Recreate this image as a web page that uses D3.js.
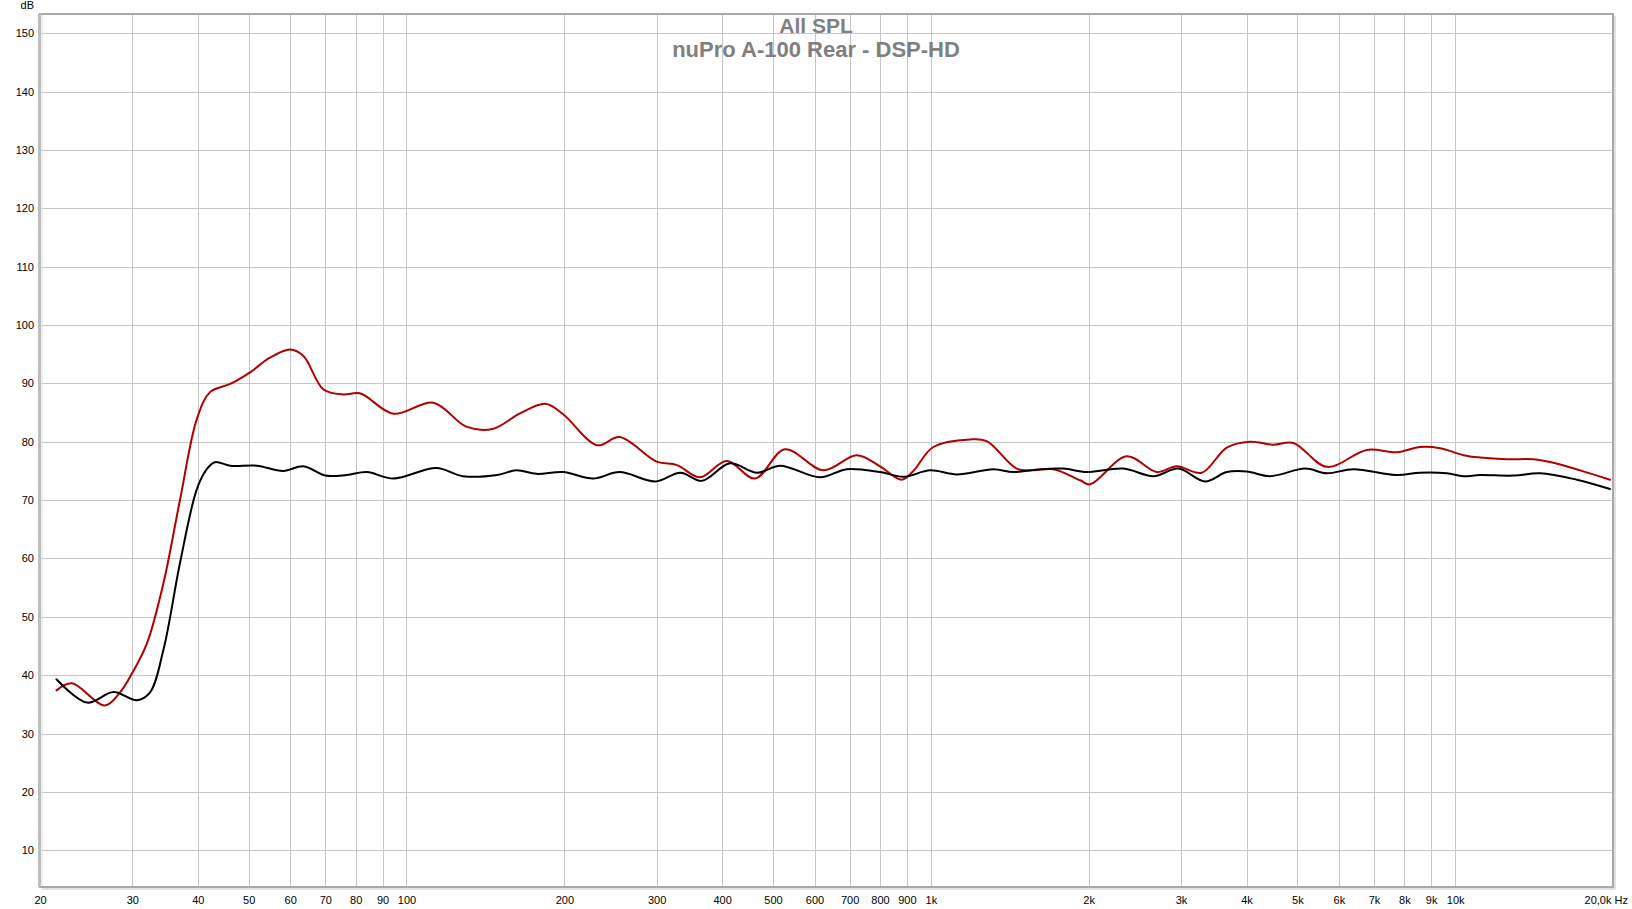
<!DOCTYPE html>
<html><head><meta charset="utf-8">
<script src="https://cdn.jsdelivr.net/npm/d3@7"></script>
<style>html,body{margin:0;padding:0;background:#fff;} svg{display:block;font-family:"Liberation Sans",Arial,sans-serif;}</style>
</head><body><svg id="c" width="1632" height="909"></svg>
<script>
const titleLines = ["All SPL", "nuPro A-100 Rear - DSP-HD"];
const yUnitLabel = "dB";
const yTicks = [10,20,30,40,50,60,70,80,90,100,110,120,130,140,150];
const xTickValues = [20,30,40,50,60,70,80,90,100,200,300,400,500,600,700,800,900,1000,2000,3000,4000,5000,6000,7000,8000,9000,10000];
const xTickLabels = ["20","30","40","50","60","70","80","90","100","200","300","400","500","600","700","800","900","1k","2k","3k","4k","5k","6k","7k","8k","9k","10k"];
const xEndLabel = "20,0k Hz";

const blackFreq = [21.5,24.6,27.6,30.6,32.4,34.4,37.0,39.8,41.6,43.1,46.1,51.8,58.2,63.6,70,76.9,84,94.4,114,128,149,162,177,199,227,255,298,333,366,414,466,516,615,691,800,887,997,1121,1316,1437,1616,1790,1984,2330,2658,2966,3334,3668,4006,4436,5174,5692,6396,7740,8572,9638,10368,11156,12914,14522,17060,19740];
const blackDb = [39.3,35.3,37.1,35.7,37.0,44.4,59.3,71.8,75.3,76.5,75.9,75.9,75.0,75.8,74.2,74.3,74.8,73.7,75.5,74.1,74.3,75.1,74.5,74.8,73.7,74.8,73.2,74.7,73.3,76.3,74.7,75.9,73.9,75.3,74.8,74.0,75.1,74.4,75.3,74.8,75.3,75.4,74.8,75.4,74.1,75.4,73.2,74.8,74.9,74.1,75.4,74.6,75.3,74.3,74.7,74.6,74.1,74.3,74.2,74.6,73.5,71.9];

const redFreq = [21.5,23.0,26.6,28.4,30,32.0,34.4,37.0,39.8,42.2,46.1,50.3,54.9,60,63.6,69.4,75.8,81.5,94.4,112.5,130,146,165,184,199,231,255,300,328,363,408,462,527,624,722,800,880,926,1011,1188,1278,1458,1569,1713,1926,2012,2364,2698,2944,3286,3668,4064,4502,4914,5692,6784,7740,8572,9360,10368,11156,12542,14100,15394,17316,19740];
const redDb = [37.4,38.6,34.8,37.0,40.4,45.5,55.8,70.1,83.8,88.5,89.9,91.9,94.4,95.8,94.7,89.0,88.1,88.3,84.8,86.7,82.6,82.2,84.9,86.5,84.7,79.4,80.8,76.6,76.0,73.9,76.7,73.7,78.7,75.1,77.7,75.8,73.5,75.0,79.1,80.4,80.1,75.4,75.1,75.3,73.4,72.7,77.5,74.8,75.8,74.7,79.0,80.0,79.5,79.8,75.7,78.6,78.2,79.1,78.9,77.7,77.3,77.0,77.0,76.4,75.1,73.5];

const m = {left:40, right:1613, top:14, bottom:887};
const x = d3.scaleLog().domain([20,20000]).range([m.left,m.right]);
const y = d3.scaleLinear().domain([3.7,153.3]).range([m.bottom,m.top]);
const svg = d3.select('#c');

// x grid + labels
const gx = svg.append('g').attr('transform',`translate(0,${m.bottom})`)
  .call(d3.axisBottom(x).tickValues(xTickValues).tickFormat((d,i)=>xTickLabels[i])
    .tickSize(-(m.bottom-m.top)).tickPadding(9));
gx.select('.domain').remove();
gx.selectAll('line').attr('stroke','#c6c6c6').attr('stroke-width',1).attr('shape-rendering','crispEdges');
gx.selectAll('text').attr('font-size',11).attr('fill','#000').attr('font-family','"Liberation Sans",Arial,sans-serif');

// y grid + labels
const gy = svg.append('g').attr('transform',`translate(${m.left},0)`)
  .call(d3.axisLeft(y).tickValues(yTicks).tickSize(-(m.right-m.left)).tickPadding(6));
gy.select('.domain').remove();
gy.selectAll('line').attr('stroke','#c6c6c6').attr('stroke-width',1).attr('shape-rendering','crispEdges');
gy.selectAll('text').attr('font-size',11).attr('fill','#000').attr('font-family','"Liberation Sans",Arial,sans-serif');

svg.append('text').attr('x',34).attr('y',9).attr('text-anchor','end').attr('font-size',11).text(yUnitLabel);
svg.append('text').attr('x',1628).attr('y',904).attr('text-anchor','end').attr('font-size',11).text(xEndLabel);

// title
titleLines.forEach((t,i)=>{
  svg.append('text').attr('x',816).attr('y',i===0?33:57).attr('text-anchor','middle')
    .attr('font-size',i===0?21:22).attr('font-weight','bold').attr('fill','#7f7f7f').text(t);
});

// clip
svg.append('clipPath').attr('id','clip').append('rect')
  .attr('x',m.left).attr('y',m.top).attr('width',m.right-m.left).attr('height',m.bottom-m.top);

const line = d3.line().x(d=>x(d[0])).y(d=>y(d[1])).curve(d3.curveCatmullRom.alpha(0.5));
const series = [
  {f:redFreq, v:redDb, color:'#b00000'},
  {f:blackFreq, v:blackDb, color:'#000000'}
];
const gl = svg.append('g').attr('clip-path','url(#clip)');
series.forEach(s=>{
  gl.append('path').datum(s.f.map((f,i)=>[f,s.v[i]]))
    .attr('d',line).attr('fill','none').attr('stroke',s.color).attr('stroke-width',2)
    .attr('stroke-linejoin','round').attr('stroke-linecap','round');
});

// frame
svg.append('rect').attr('x',m.left).attr('y',m.top).attr('width',m.right-m.left).attr('height',m.bottom-m.top)
  .attr('fill','none').attr('stroke','#a9a9a9').attr('stroke-width',2);
svg.append('line').attr('x1',m.left-0.5).attr('x2',m.left-0.5).attr('y1',m.top).attr('y2',m.bottom)
  .attr('stroke','#bdbdbd').attr('stroke-width',3);
svg.append('line').attr('x1',m.left+2).attr('x2',m.left+2).attr('y1',m.top+1).attr('y2',m.bottom-1)
  .attr('stroke','#e0e0e0').attr('stroke-width',1);
svg.append('line').attr('x1',m.right+2).attr('x2',m.right+2).attr('y1',m.top+2).attr('y2',m.bottom+2)
  .attr('stroke','#e2e2e2').attr('stroke-width',2);
svg.append('line').attr('x1',m.left+2).attr('x2',m.right+2).attr('y1',m.bottom+2).attr('y2',m.bottom+2)
  .attr('stroke','#e2e2e2').attr('stroke-width',2);
</script></body></html>
